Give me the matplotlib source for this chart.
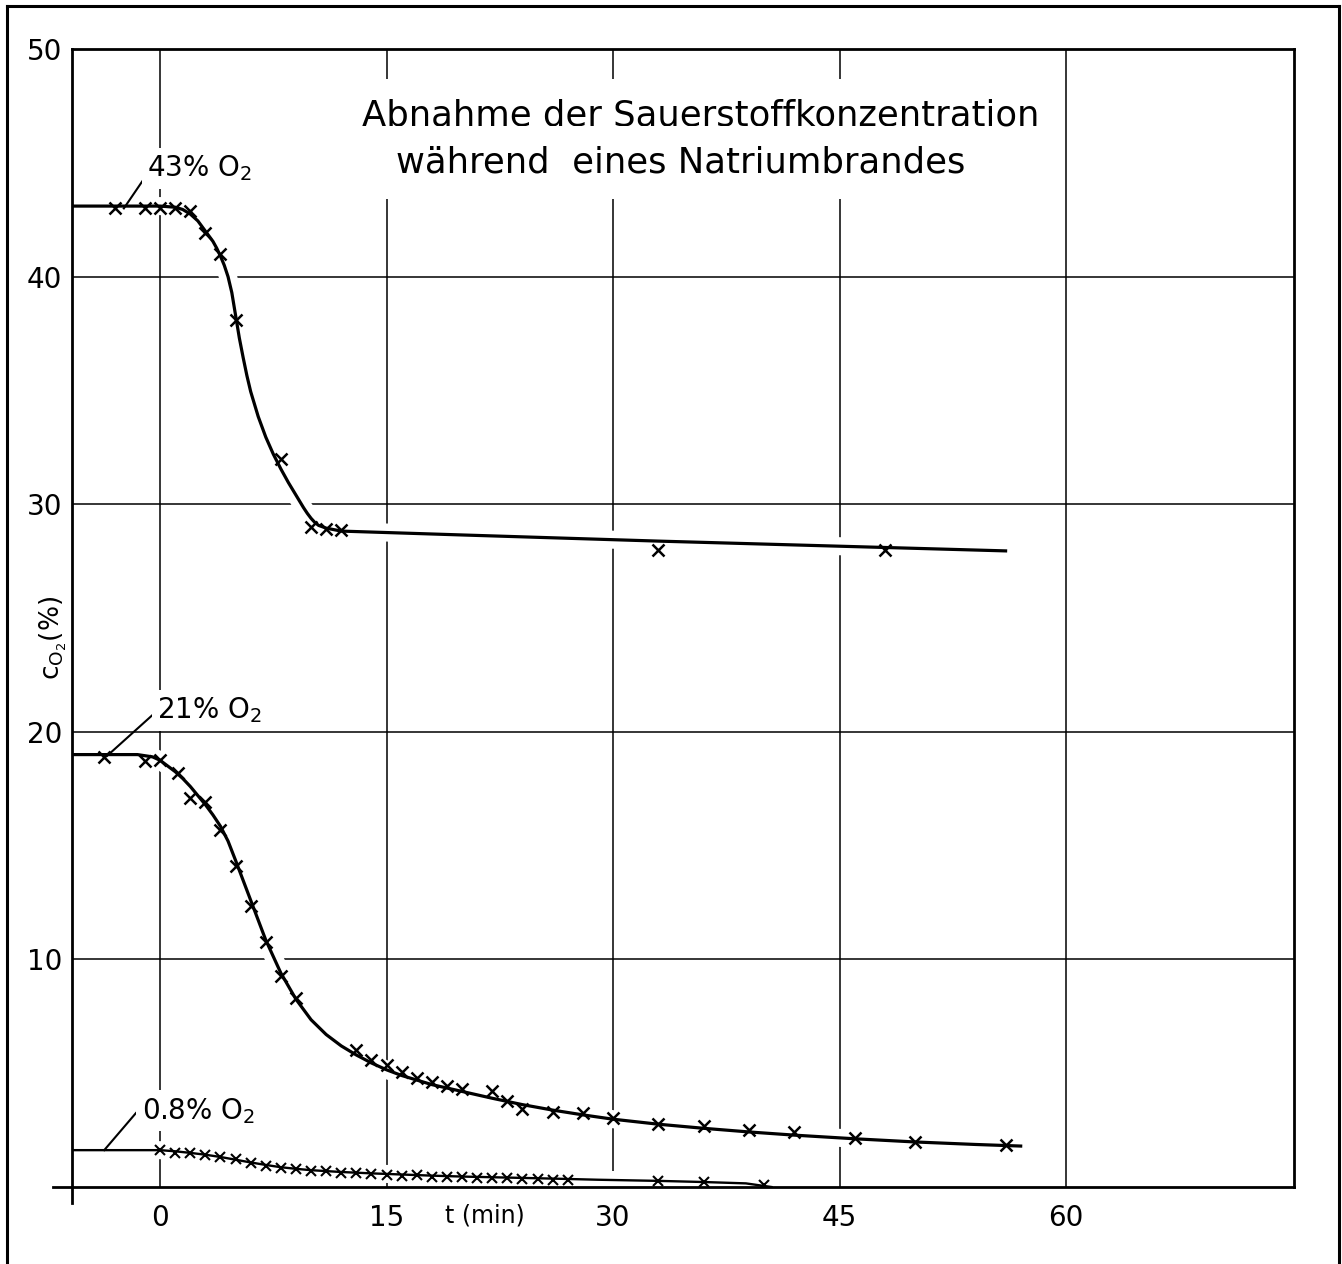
import matplotlib
matplotlib.use("Agg")
import matplotlib.pyplot as plt
import matplotlib.patheffects as pe
from matplotlib.lines import Line2D

# measured points (t in min, O2 concentration in %)
t_43 = [-3, -1, 0, 1, 2, 3, 4, 5, 8, 10, 11, 12, 33, 48]
c_43 = [43.0, 43.0, 43.0, 43.0, 42.9, 41.9, 41.0, 38.1, 32.0, 29.0, 28.9, 28.85, 28.0, 28.0]

t_21 = [-3.7, -1, 0, 1.2, 2, 3, 4, 5, 6, 7, 8, 9, 13, 14, 15, 16, 17, 18, 19, 20,
        22, 23, 24, 26, 28, 30, 33, 36, 39, 42, 46, 50, 56]
c_21 = [18.9, 18.7, 18.75, 18.2, 17.1, 16.9, 15.7, 14.1, 12.35, 10.75, 9.25, 8.3, 6.0, 5.6,
        5.35, 5.05, 4.8, 4.6, 4.45, 4.3, 4.2, 3.8, 3.45, 3.3, 3.25, 3.05, 2.75, 2.7, 2.5,
        2.4, 2.15, 2.0, 1.85]

t_08 = [0, 1, 2, 3, 4, 5, 6, 7, 8, 9, 10, 11, 12, 13, 14, 15, 16, 17, 18, 19, 20, 21,
        22, 23, 24, 25, 26, 27, 33, 36, 40]
c_08 = [1.62, 1.5, 1.48, 1.4, 1.3, 1.22, 1.07, 0.92, 0.82, 0.78, 0.72, 0.72, 0.63, 0.6,
        0.57, 0.54, 0.48, 0.52, 0.45, 0.42, 0.42, 0.41, 0.39, 0.41, 0.36, 0.35, 0.29,
        0.33, 0.26, 0.2, 0.1]

# hand-drawn fit curves
fit_t_43 = [-5.8, -2, 0, 1, 1.5, 2, 2.5, 3, 3.5, 3.75, 4, 4.25, 4.5, 4.75, 5, 5.25, 5.5,
            5.75, 6, 6.5, 7, 7.5, 8, 8.5, 9, 9.5, 9.75, 10, 10.25, 10.5, 11, 12, 20, 33,
            48, 56]
fit_c_43 = [43.1, 43.1, 43.1, 43.05, 42.95, 42.75, 42.45, 42.0, 41.55, 41.25, 40.9, 40.5,
            40.0, 39.3, 38.3, 37.3, 36.45, 35.65, 34.95, 33.85, 32.95, 32.2, 31.55, 30.95,
            30.4, 29.85, 29.6, 29.38, 29.2, 29.07, 28.95, 28.82, 28.65, 28.38, 28.1, 27.95]

fit_t_21 = [-5.8, -1.5, -0.5, 0, 0.5, 1, 1.5, 2, 3, 3.5, 4, 4.5, 5, 6, 7, 8, 9, 10, 11,
            12, 13, 14, 15, 16, 18, 20, 22, 24, 26, 28, 30, 33, 36, 39, 42, 46, 50, 54, 57]
fit_c_21 = [19.0, 19.0, 18.9, 18.75, 18.5, 18.25, 17.95, 17.6, 16.8, 16.35, 15.85, 15.2,
            14.35, 12.6, 10.85, 9.4, 8.25, 7.35, 6.7, 6.2, 5.8, 5.45, 5.15, 4.9, 4.5, 4.2,
            3.9, 3.62, 3.38, 3.17, 2.98, 2.76, 2.58, 2.42, 2.28, 2.12, 1.98, 1.87, 1.8]

fit_t_08 = [-5.8, 0, 1, 2, 3, 4, 5, 6, 7, 8, 9, 10, 12, 14, 16, 18, 20, 22, 24, 26, 29,
            33, 36, 38.8, 40.5]
fit_c_08 = [1.62, 1.62, 1.57, 1.5, 1.42, 1.32, 1.2, 1.08, 0.97, 0.87, 0.8, 0.74, 0.66,
            0.6, 0.55, 0.5, 0.46, 0.43, 0.4, 0.37, 0.32, 0.27, 0.22, 0.16, 0.0]

x_ticks = [0, 15, 30, 45, 60]
y_ticks = [10, 20, 30, 40, 50]

fig = plt.figure(figsize=(13.42, 12.64), dpi=100)
ax = fig.add_axes([0.0537, 0.0609, 0.9105, 0.9003])
ax.set_xlim(-5.83, 75.1)
ax.set_ylim(0, 50)
ax.set_xticks(x_ticks)
ax.set_yticks(y_ticks)
ax.grid(True, color="black", linewidth=1.1)
ax.tick_params(axis="both", length=0, labelsize=20)
ax.tick_params(axis="x", pad=12)
ax.tick_params(axis="y", pad=7)
for sp in ax.spines.values():
    sp.set_linewidth(2.0)

# axis lines run a bit past the corner, like on a drawing board
ax.plot([-0.016, 0], [0, 0], transform=ax.transAxes, color="black", lw=2.0, clip_on=False)
ax.plot([0, 0], [-0.014, 0], transform=ax.transAxes, color="black", lw=2.0, clip_on=False)

# white halo breaks the grid where a curve crosses it
halo = [pe.Stroke(linewidth=13, foreground="white"), pe.Normal()]
ax.plot(fit_t_43, fit_c_43, color="black", lw=2.3, zorder=2, path_effects=halo)
ax.plot(fit_t_21, fit_c_21, color="black", lw=2.3, zorder=2, path_effects=halo)
ax.plot(fit_t_08, fit_c_08, color="black", lw=1.7, zorder=2, path_effects=halo)

ax.plot(t_43, c_43, "x", color="black", ms=9, mew=1.8, zorder=3)
ax.plot(t_21, c_21, "x", color="black", ms=9, mew=1.8, zorder=3)
ax.plot(t_08, c_08, "x", color="black", ms=7, mew=1.5, zorder=3)

# curve labels with leader lines
lab_box = dict(facecolor="white", edgecolor="none", pad=4)
ax.plot([-2.4, -0.86], [43.0, 44.5], color="black", lw=1.5, zorder=3)
ax.text(-0.86, 44.4, r"43% O$_2$", fontsize=20, ha="left", va="baseline", zorder=4, bbox=lab_box)
ax.plot([-3.5, -0.4], [18.95, 20.8], color="black", lw=1.5, zorder=3)
ax.text(-0.2, 20.6, r"21% O$_2$", fontsize=20, ha="left", va="baseline", zorder=4, bbox=lab_box)
ax.plot([-3.7, -1.6], [1.62, 3.25], color="black", lw=1.5, zorder=3)
ax.text(-1.2, 3.0, r"0.8% O$_2$", fontsize=20, ha="left", va="baseline", zorder=4, bbox=lab_box)

title_box = dict(facecolor="white", edgecolor="none", pad=14)
ax.text(13.4, 47.1, "Abnahme der Sauerstoffkonzentration", fontsize=25.5,
        ha="left", va="center", zorder=4, bbox=title_box)
ax.text(15.6, 45.0, "während  eines Natriumbrandes", fontsize=25.5,
        ha="left", va="center", zorder=4, bbox=title_box)

ax.text(-0.0155, 0.483, r"c$_{\mathrm{O}_2}$(%)", fontsize=19, rotation=90,
        ha="center", va="center", transform=ax.transAxes)
ax.text(21.5, -0.0246, "t (min)", fontsize=17, ha="center", va="center",
        transform=ax.get_xaxis_transform())

# outer frame of the sheet
for xs, ys in [([0.0052, 0.0052], [0.0, 0.9953]),
               ([0.0052, 0.9978], [0.9953, 0.9953]),
               ([0.9978, 0.9978], [0.9953, 0.0])]:
    fig.add_artist(Line2D(xs, ys, color="black", lw=2.2, transform=fig.transFigure))

fig.savefig("out.png", dpi=100, facecolor="white")
